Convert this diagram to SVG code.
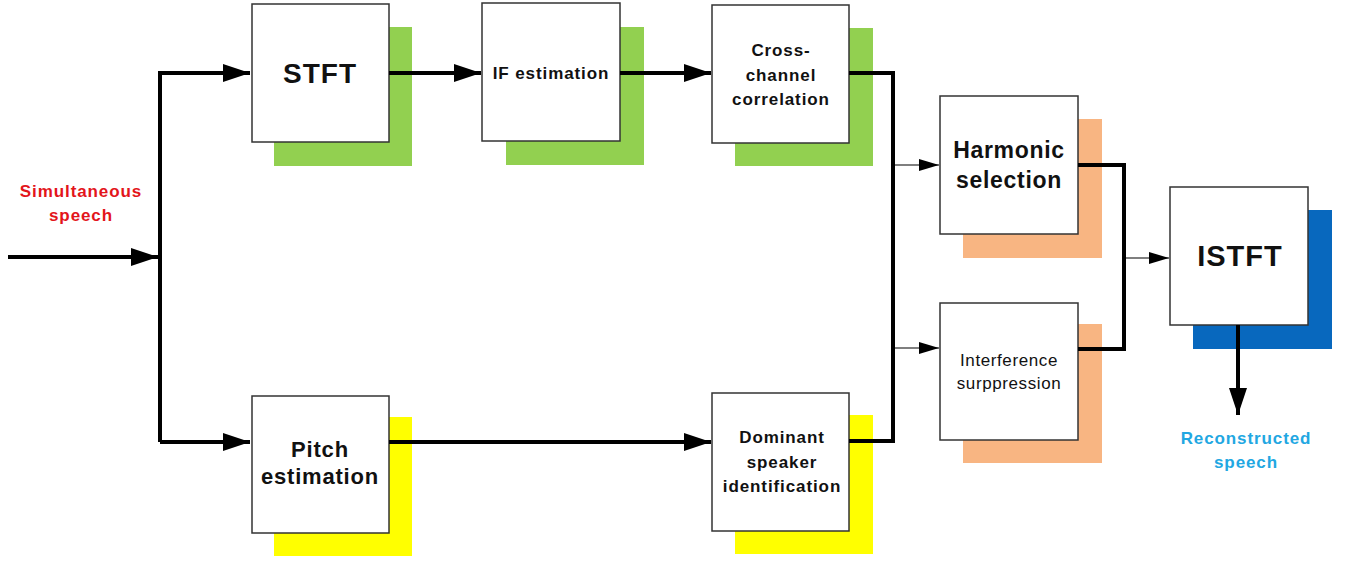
<svg xmlns="http://www.w3.org/2000/svg" width="1347" height="563" viewBox="0 0 1347 563">
<style>
.box{fill:#fff;stroke:#333;stroke-width:1.5}
.g{fill:#92D050}.o{fill:#F8B582}.y{fill:#FFFF00}.b{fill:#0868BE}
.thick{fill:none;stroke:#000;stroke-width:4;stroke-linejoin:miter}
.thin{fill:none;stroke:#000;stroke-width:1.2}
text{font-family:"Liberation Sans",Arial,sans-serif;text-anchor:middle;fill:#111}
.bd{font-weight:bold}
</style>
<defs>
<marker id="ah" markerUnits="userSpaceOnUse" markerWidth="27" markerHeight="18" refX="27" refY="9" orient="auto"><path d="M0,0 L27,9 L0,18 z" fill="#000"/></marker>
<marker id="at" markerUnits="userSpaceOnUse" markerWidth="20" markerHeight="12" refX="20" refY="6" orient="auto"><path d="M0,0 L20,6 L0,12 z" fill="#000"/></marker>
</defs>
<rect width="1347" height="563" fill="#fff"/>

<g id="stft"><rect class="g" x="274" y="27" width="138" height="139"/><rect class="box" x="252" y="4" width="137" height="138"/><text class="bd" x="320" y="83" font-size="28" letter-spacing="1">STFT</text></g>
<g id="if"><rect class="g" x="506" y="27" width="138" height="138"/><rect class="box" x="482" y="3" width="138" height="138"/><text class="bd" x="551" y="79" font-size="17" letter-spacing="0.9">IF estimation</text></g>
<g id="cross"><rect class="g" x="735" y="28" width="138" height="138"/><rect class="box" x="712" y="5" width="137" height="138"/><text class="bd" font-size="17" letter-spacing="0.9"><tspan x="781" y="56">Cross-</tspan><tspan x="781" y="81">channel</tspan><tspan x="781" y="105">correlation</tspan></text></g>
<g id="pitch"><rect class="y" x="274" y="417" width="138" height="139"/><rect class="box" x="252" y="396" width="137" height="137"/><text class="bd" font-size="22" letter-spacing="0.8"><tspan x="320" y="457">Pitch</tspan><tspan x="320" y="484">estimation</tspan></text></g>
<g id="dominant"><rect class="y" x="735" y="415" width="138" height="139"/><rect class="box" x="712" y="393" width="137" height="138"/><text class="bd" font-size="17" letter-spacing="0.9"><tspan x="782" y="443">Dominant</tspan><tspan x="782" y="468">speaker</tspan><tspan x="782" y="492">identification</tspan></text></g>
<g id="harmonic"><rect class="o" x="963" y="119" width="139" height="139"/><rect class="box" x="940" y="96" width="138" height="138"/><text class="bd" font-size="23" letter-spacing="0.7"><tspan x="1009" y="158">Harmonic</tspan><tspan x="1009" y="188">selection</tspan></text></g>
<g id="interference"><rect class="o" x="963" y="324" width="139" height="139"/><rect class="box" x="940" y="303" width="138" height="137"/><text font-size="17" letter-spacing="0.6" fill="#222"><tspan x="1009" y="366">Interference</tspan><tspan x="1009" y="389">surppression</tspan></text></g>
<g id="istft"><rect class="b" x="1193" y="210" width="139" height="139"/><rect class="box" x="1170" y="187" width="138" height="138"/><text class="bd" x="1240" y="266" font-size="29" letter-spacing="1">ISTFT</text></g>

<g id="label-in"><text class="bd" font-size="17" letter-spacing="0.9" fill="#E3151B" style="fill:#E3151B"><tspan x="81" y="197">Simultaneous</tspan><tspan x="81" y="221">speech</tspan></text></g>
<g id="label-out"><text class="bd" font-size="17" letter-spacing="0.9" style="fill:#22A7E2"><tspan x="1246" y="444">Reconstructed</tspan><tspan x="1246" y="468">speech</tspan></text></g>

<g id="connectors">
<path class="thick" d="M8,257 H158" marker-end="url(#ah)"/>
<path class="thick" d="M160,442 V73 H250" marker-end="url(#ah)"/>
<path class="thick" d="M160,442 H250" marker-end="url(#ah)"/>
<path class="thick" d="M389,73 H481" marker-end="url(#ah)"/>
<path class="thick" d="M620,73 H711" marker-end="url(#ah)"/>
<path class="thick" d="M849,73 H893 V441 H849"/>
<path class="thick" d="M389,442 H711" marker-end="url(#ah)"/>
<path class="thin" d="M893,165 H939" marker-end="url(#at)"/>
<path class="thin" d="M893,348 H939" marker-end="url(#at)"/>
<path class="thick" d="M1078,165 H1124 V349 H1078"/>
<path class="thin" d="M1124,258 H1169" marker-end="url(#at)"/>
<path class="thick" d="M1238,325 V415" marker-end="url(#ah)"/>
</g>
</svg>
